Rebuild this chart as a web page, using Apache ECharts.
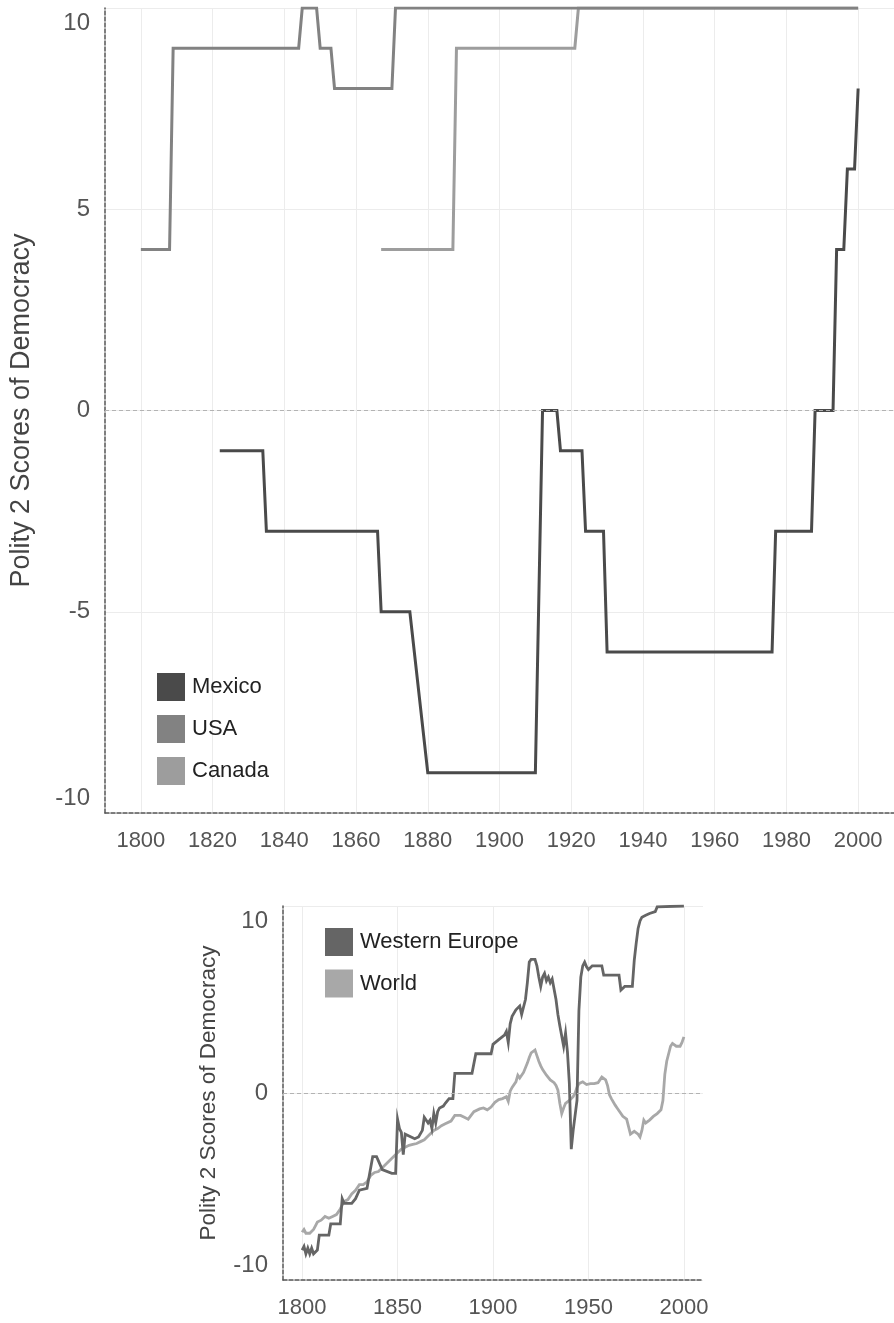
<!DOCTYPE html>
<html>
<head>
<meta charset="utf-8">
<script src="https://cdn.jsdelivr.net/npm/echarts@6/dist/echarts.min.js"></script>
<style>
  html, body { margin: 0; padding: 0; background: #ffffff; }
  #chart { width: 894px; height: 1323px; }
</style>
</head>
<body>
<div id="chart"></div>
<script>
// ---- Data: Polity 2 democracy scores ----
const topYearTicks = [1800, 1820, 1840, 1860, 1880, 1900, 1920, 1940, 1960, 1980, 2000];
const bottomYearTicks = [1800, 1850, 1900, 1950, 2000];

// North America (values at the years where the score changes)
const mexicoYears  = [1822, 1834, 1835, 1866, 1867, 1875, 1880, 1910, 1912, 1916, 1917, 1923, 1924, 1929, 1930, 1976, 1977, 1987, 1988, 1993, 1994, 1996, 1997, 1999, 2000];
const mexicoScores = [-1, -1, -3, -3, -5, -5, -9, -9, 0, 0, -1, -1, -3, -3, -6, -6, -3, -3, 0, 0, 4, 4, 6, 6, 8];

const usaYears  = [1800, 1808, 1809, 1844, 1845, 1849, 1850, 1853, 1854, 1870, 1871, 2000];
const usaScores = [4, 4, 9, 9, 10, 10, 9, 9, 8, 8, 10, 10];

const canadaYears  = [1867, 1887, 1888, 1921, 1922, 2000];
const canadaScores = [4, 4, 9, 9, 10, 10];

// Regional averages
const westEuropeYears = [1800, 1801, 1802, 1803, 1804, 1805, 1806, 1807, 1808, 1809, 1814, 1815, 1820, 1821, 1822, 1826, 1828, 1830, 1834, 1835, 1837, 1839, 1840, 1842, 1843, 1847, 1849, 1850, 1851, 1852, 1853, 1854, 1856, 1859, 1861, 1863, 1864, 1865, 1866, 1867, 1868, 1869, 1870, 1871, 1872, 1874, 1875, 1877, 1879, 1880, 1889, 1891, 1895, 1896, 1899, 1900, 1903, 1906, 1907, 1908, 1909, 1910, 1912, 1914, 1915, 1916, 1917, 1918, 1919, 1920, 1922, 1923, 1924, 1925, 1926, 1927, 1928, 1929, 1930, 1931, 1932, 1933, 1934, 1935, 1936, 1937, 1938, 1939, 1940, 1941, 1942, 1943, 1944, 1945, 1946, 1947, 1948, 1949, 1950, 1952, 1957, 1958, 1966, 1967, 1968, 1969, 1973, 1974, 1975, 1976, 1977, 1978, 1980, 1982, 1983, 1985, 1986, 2000];
const westEuropeScores = [-8.4, -8.2, -8.6, -8.3, -8.6, -8.3, -8.6, -8.5, -8.4, -7.6, -7.6, -7.0, -7.0, -5.65, -5.9, -5.9, -5.65, -5.2, -5.1, -5.0, -3.4, -3.4, -3.5, -4.1, -4.2, -4.3, -4.3, -1.4, -1.9, -2.1, -3.3, -2.2, -2.3, -2.45, -2.35, -2.0, -1.3, -1.3, -1.6, -1.45, -1.9, -1.1, -1.6, -1.0, -0.8, -0.7, -0.55, -0.3, -0.3, 1.05, 1.05, 2.1, 2.1, 2.0, 2.1, 2.6, 2.85, 3.1, 3.3, 2.7, 3.7, 4.1, 4.45, 4.65, 4.2, 4.6, 5.0, 5.9, 7.0, 7.15, 7.15, 6.8, 6.2, 5.7, 6.2, 6.4, 6.0, 6.2, 5.9, 6.1, 6.15, 5.0, 4.2, 3.6, 3.5, 2.5, 3.2, 2.2, 0.5, -3.0, -2.0, -2.1, -0.4, 4.4, 6.2, 6.8, 7.0, 6.75, 6.6, 6.8, 6.8, 6.3, 6.3, 5.5, 5.6, 5.7, 5.7, 7.1, 8.0, 8.8, 9.2, 9.4, 9.5, 9.6, 9.7, 9.7, 9.95, 10.0];

const worldYears = [1800, 1801, 1802, 1803, 1804, 1805, 1806, 1807, 1808, 1809, 1810, 1812, 1814, 1816, 1818, 1820, 1822, 1824, 1826, 1828, 1830, 1832, 1834, 1836, 1838, 1840, 1842, 1844, 1846, 1848, 1850, 1852, 1854, 1856, 1858, 1860, 1862, 1864, 1866, 1867, 1869, 1871, 1873, 1875, 1878, 1880, 1881, 1883, 1885, 1887, 1888, 1890, 1891, 1893, 1895, 1897, 1899, 1901, 1903, 1905, 1907, 1908, 1909, 1910, 1912, 1913, 1914, 1915, 1916, 1918, 1919, 1920, 1922, 1923, 1924, 1925, 1926, 1928, 1930, 1932, 1933, 1934, 1935, 1936, 1937, 1938, 1939, 1940, 1941, 1942, 1943, 1944, 1945, 1946, 1947, 1948, 1949, 1950, 1951, 1952, 1953, 1954, 1955, 1956, 1957, 1958, 1959, 1960, 1961, 1962, 1963, 1964, 1965, 1966, 1967, 1968, 1969, 1970, 1971, 1972, 1973, 1974, 1975, 1976, 1977, 1978, 1979, 1980, 1981, 1982, 1983, 1984, 1985, 1986, 1987, 1988, 1989, 1990, 1991, 1992, 1993, 1994, 1995, 1996, 1997, 1998, 1999, 2000];
const worldScores = [-7.45, -7.3, -7.5, -7.4, -7.5, -7.4, -7.3, -7.1, -6.9, -6.8, -6.8, -6.6, -6.7, -6.6, -6.5, -6.2, -5.8, -5.7, -5.4, -5.2, -4.9, -4.9, -4.75, -4.4, -4.25, -4.2, -4.0, -3.8, -3.6, -3.4, -3.2, -3.0, -2.9, -2.8, -2.75, -2.7, -2.6, -2.5, -2.3, -2.2, -2.0, -1.9, -1.75, -1.65, -1.5, -1.2, -1.1, -1.2, -1.3, -1.4, -1.45, -1.0, -0.9, -0.85, -0.8, -0.9, -0.75, -0.5, -0.35, -0.3, -0.2, -0.45, 0.1, 0.3, 0.6, 0.95, 0.8, 0.7, 1.1, 1.6, 1.9, 2.15, 2.3, 2.0, 1.7, 1.45, 1.25, 0.95, 0.7, 0.55, 0.4, 0.15, -0.55, -1.1, -0.8, -0.55, -0.5, -0.4, -0.3, -0.2, 0.0, 0.3, 0.5, 0.6, 0.6, 0.5, 0.45, 0.55, 0.5, 0.5, 0.5, 0.45, 0.55, 0.6, 0.85, 0.75, 0.7, 0.4, -0.1, -0.3, -0.4, -0.65, -0.8, -0.95, -1.1, -1.25, -1.3, -1.4, -1.8, -2.2, -2.2, -2.05, -2.1, -2.2, -2.35, -2.0, -1.45, -1.6, -1.55, -1.45, -1.35, -1.25, -1.15, -1.1, -1.0, -0.9, -0.4, 1.0, 1.7, 2.1, 2.5, 2.65, 2.55, 2.5, 2.4, 2.5, 2.7, 3.0];

// ---- Styling ----
const FONT = '"Liberation Sans", Arial, Helvetica, sans-serif';
const AXIS_TITLE = 'Polity 2 Scores of Democracy';
const dashedAxis = { color: '#555555', width: 1.5, type: [4, 2] };
const gridLineStyle = { color: '#ececec', width: 1 };

function pairs(xs, ys) { return xs.map((x, i) => [x, ys[i]]); }

function yearAxis(gridIndex, ticks) {
  return {
    type: 'value', gridIndex: gridIndex, min: 1790, max: 2010,
    axisLine: { show: true, onZero: false, lineStyle: dashedAxis },
    axisTick: { show: false, customValues: ticks },
    axisLabel: {
      customValues: ticks, formatter: v => String(v),
      color: '#555555', fontSize: 22, fontFamily: FONT, margin: 13, lineHeight: 30
    },
    splitLine: { show: true, lineStyle: gridLineStyle }
  };
}

function scoreAxis(gridIndex, interval, nameSize, nameGap) {
  return {
    type: 'value', gridIndex: gridIndex, min: -10, max: 10, interval: interval,
    name: AXIS_TITLE, nameLocation: 'middle', nameGap: nameGap, nameRotate: 90,
    nameTextStyle: { fontSize: nameSize, color: '#444444', fontFamily: FONT },
    axisLine: { show: true, onZero: false, lineStyle: dashedAxis },
    axisTick: { show: false },
    axisLabel: {
      formatter: v => String(v), color: '#555555', fontSize: 24, fontFamily: FONT,
      margin: 15, lineHeight: 30,
      verticalAlignMinLabel: 'bottom', verticalAlignMaxLabel: 'top'
    },
    splitLine: { show: true, lineStyle: gridLineStyle }
  };
}

function lineSeries(name, data, color, width, xi, z, extra) {
  return Object.assign({
    name: name, type: 'line', xAxisIndex: xi, yAxisIndex: xi,
    data: data, showSymbol: false, symbol: 'none', z: z,
    color: color, itemStyle: { color: color },
    lineStyle: { color: color, width: width, join: 'miter' },
    emphasis: { disabled: true }
  }, extra || {});
}

const zeroLine = {
  silent: true, symbol: 'none', label: { show: false },
  lineStyle: { color: '#b3b3b3', width: 1, type: [4, 3] },
  data: [{ yAxis: 0 }]
};

const legendBase = {
  orient: 'vertical', icon: 'rect', itemWidth: 28, itemHeight: 28,
  selectedMode: false,
  textStyle: { fontSize: 22, color: '#222222', fontFamily: FONT, padding: [0, 0, 0, 2] }
};

const option = {
  animation: false,
  backgroundColor: '#ffffff',
  textStyle: { fontFamily: FONT },
  grid: [
    { left: 104, top: 8, width: 790, height: 805 },
    { left: 283, top: 906, width: 420, height: 374 }
  ],
  xAxis: [yearAxis(0, topYearTicks), yearAxis(1, bottomYearTicks)],
  yAxis: [scoreAxis(0, 5, 27, 70), scoreAxis(1, 10, 22.5, 63)],
  legend: [
    Object.assign({}, legendBase, { data: ['Mexico', 'USA', 'Canada'], left: 152, top: 668, itemGap: 14 }),
    Object.assign({}, legendBase, { data: ['Western Europe', 'World'], left: 320, top: 923, itemGap: 13.5 })
  ],
  series: [
    lineSeries('Canada', pairs(canadaYears, canadaScores), '#9d9d9d', 3, 0, 2, { markLine: zeroLine }),
    lineSeries('USA', pairs(usaYears, usaScores), '#828282', 3, 0, 3),
    lineSeries('Mexico', pairs(mexicoYears, mexicoScores), '#4a4a4a', 3, 0, 4),
    lineSeries('World', pairs(worldYears, worldScores), '#a8a8a8', 2.8, 1, 2, { markLine: zeroLine }),
    lineSeries('Western Europe', pairs(westEuropeYears, westEuropeScores), '#656565', 2.8, 1, 3)
  ]
};

const chart = echarts.init(document.getElementById('chart'), null, { renderer: 'canvas' });
chart.setOption(option);
</script>
</body>
</html>
